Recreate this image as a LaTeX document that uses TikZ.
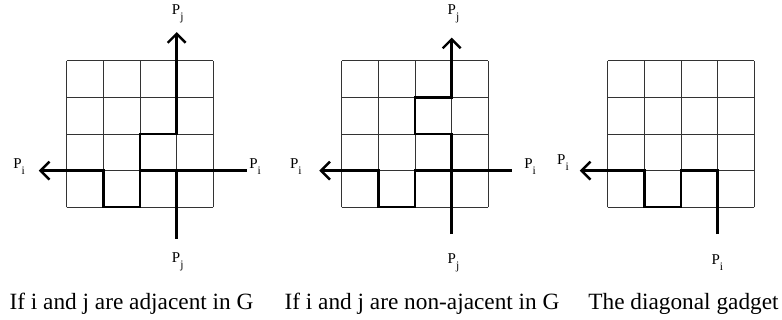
\documentclass[tikz,border=0pt]{standalone}
\usepackage{fontspec}
\setmainfont{Liberation Serif}
\usetikzlibrary{arrows.meta}

\newcommand{\Psub}[1]{P\raisebox{-6pt}{\fontsize{11.5}{11.5}\selectfont #1}}

\begin{document}
\begin{tikzpicture}[x=1pt,y=1pt,
    gridline/.style={line width=0.9pt,black!80,step={(1,1)}},
    route/.style={line width=2.4pt,line join=miter},
    tip/.style={-{Straight Barb[length=9pt,width=18pt]}},
    lbl/.style={inner sep=0pt,font=\fontsize{15}{15}\selectfont},
    caption/.style={anchor=base,inner sep=0pt,font=\fontsize{23.3}{28}\selectfont}]
  \useasboundingbox (0,0) rectangle (782,320);

  % adjacent
  \begin{scope}[shift={(66.7pt,112.7pt)},x=36.65pt,y=36.65pt]
    \draw[gridline] (0,0) grid (4,4);
    \draw[route,tip] (4.91,1) -- (2,1) -- (2,0) -- (1,0) -- (1,1) -- (-0.76,1);
    \draw[route,tip] (3,-0.86) -- (3,1) -- (2,1) -- (2,2) -- (3,2) -- (3,4.78);
    \node[lbl] (pj-top-a) at (3.03,5.27) {\Psub{j}};
    \node[lbl] (pi-left-a) at (-1.3,1.1) {\Psub{i}};
    \node[lbl] (pi-right-a) at (5.14,1.1) {\Psub{i}};
    \node[lbl] (pj-bot-a) at (3.03,-1.49) {\Psub{j}};
  \end{scope}

  % non-adjacent
  \begin{scope}[shift={(341.7pt,112.7pt)},x=36.65pt,y=36.65pt]
    \draw[gridline] (0,0) grid (4,4);
    \draw[route,tip] (4.64,1) -- (2,1) -- (2,0) -- (1,0) -- (1,1) -- (-0.61,1);
    \draw[route,tip] (3,-0.73) -- (3,2) -- (2,2) -- (2,3) -- (3,3) -- (3,4.63);
    \node[lbl] (pj-top-b) at (3.05,5.27) {\Psub{j}};
    \node[lbl] (pi-left-b) at (-1.25,1.1) {\Psub{i}};
    \node[lbl] (pi-right-b) at (5.14,1.1) {\Psub{i}};
    \node[lbl] (pj-bot-b) at (3.05,-1.52) {\Psub{j}};
  \end{scope}

  % diagonal gadget
  \begin{scope}[shift={(607.7pt,112.7pt)},x=36.65pt,y=36.65pt]
    \draw[gridline] (0,0) grid (4,4);
    \draw[route,tip] (3,-0.73) -- (3,1) -- (2,1) -- (2,0) -- (1,0) -- (1,1) -- (-0.76,1);
    \node[lbl] (pi-left-c) at (-1.22,1.21) {\Psub{i}};
    \node[lbl] (pi-bot-c) at (2.99,-1.52) {\Psub{i}};
  \end{scope}

  \node[caption] (cap-a) at (131.5,10) {If i and j are adjacent in G};
  \node[caption] (cap-b) at (422,10) {If i and j are non-ajacent in G};
  \node[caption] (cap-c) at (683.5,10) {The diagonal gadget};
\end{tikzpicture}
\end{document}
